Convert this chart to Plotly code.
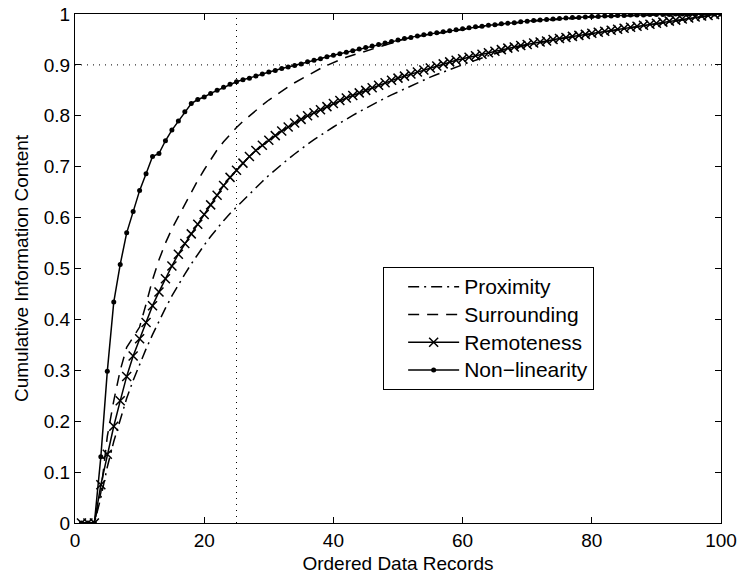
import plotly.graph_objects as go

records = list(range(1, 101))

proximity = [
    0, 0, 0, 0.050, 0.110, 0.160, 0.205, 0.245, 0.280, 0.312,
    0.342, 0.370, 0.397, 0.422, 0.446, 0.468, 0.489, 0.509, 0.528, 0.546,
    0.563, 0.579, 0.594, 0.608, 0.621, 0.634, 0.647, 0.659, 0.671, 0.683,
    0.694, 0.705, 0.715, 0.725, 0.735, 0.744, 0.753, 0.762, 0.770, 0.778,
    0.786, 0.794, 0.801, 0.808, 0.815, 0.822, 0.829, 0.835, 0.841, 0.847,
    0.853, 0.859, 0.865, 0.870, 0.876, 0.881, 0.886, 0.891, 0.896, 0.900,
    0.905, 0.909, 0.914, 0.918, 0.922, 0.926, 0.930, 0.933, 0.936, 0.939,
    0.942, 0.944, 0.946, 0.949, 0.951, 0.953, 0.955, 0.957, 0.959, 0.961,
    0.963, 0.965, 0.967, 0.969, 0.971, 0.973, 0.975, 0.977, 0.979, 0.981,
    0.983, 0.985, 0.987, 0.989, 0.991, 0.993, 0.995, 0.997, 0.999, 1.0,
]

surrounding = [
    0, 0, 0, 0.060, 0.170, 0.240, 0.300, 0.345, 0.365, 0.385,
    0.430, 0.478, 0.517, 0.550, 0.578, 0.602, 0.626, 0.650, 0.673, 0.694,
    0.714, 0.733, 0.749, 0.764, 0.777, 0.789, 0.800, 0.811, 0.821, 0.831,
    0.840, 0.849, 0.857, 0.865, 0.872, 0.880, 0.887, 0.893, 0.899, 0.905,
    0.910, 0.915, 0.919, 0.923, 0.927, 0.931, 0.935, 0.939, 0.943, 0.947,
    0.951, 0.953, 0.956, 0.958, 0.960, 0.962, 0.964, 0.966, 0.968, 0.970,
    0.972, 0.974, 0.975, 0.977, 0.978, 0.980, 0.981, 0.982, 0.984, 0.985,
    0.986, 0.987, 0.988, 0.989, 0.990, 0.991, 0.992, 0.992, 0.993, 0.994,
    0.994, 0.995, 0.995, 0.996, 0.996, 0.997, 0.997, 0.997, 0.998, 0.998,
    0.998, 0.998, 0.999, 0.999, 0.999, 0.999, 1.0, 1.0, 1.0, 1.0,
]

remoteness = [
    0, 0, 0, 0.075, 0.135, 0.190, 0.240, 0.288, 0.328, 0.362,
    0.394, 0.427, 0.454, 0.480, 0.505, 0.528, 0.549, 0.568, 0.587, 0.606,
    0.625, 0.644, 0.663, 0.679, 0.693, 0.707, 0.720, 0.732, 0.742, 0.752,
    0.761, 0.770, 0.778, 0.786, 0.793, 0.800, 0.806, 0.812, 0.818, 0.824,
    0.830, 0.835, 0.840, 0.845, 0.850, 0.855, 0.860, 0.865, 0.870, 0.874,
    0.878, 0.882, 0.886, 0.890, 0.894, 0.898, 0.902, 0.906, 0.909, 0.912,
    0.915, 0.918, 0.921, 0.924, 0.927, 0.930, 0.933, 0.935, 0.938, 0.940,
    0.943, 0.945, 0.947, 0.950, 0.952, 0.954, 0.956, 0.958, 0.960, 0.962,
    0.964, 0.966, 0.968, 0.970, 0.972, 0.974, 0.976, 0.978, 0.980, 0.982,
    0.984, 0.986, 0.988, 0.990, 0.992, 0.994, 0.996, 0.997, 0.999, 1.0,
]

nonlinearity = [
    0, 0, 0, 0.130, 0.298, 0.434, 0.508, 0.570, 0.612, 0.653,
    0.686, 0.720, 0.726, 0.751, 0.772, 0.790, 0.808, 0.824, 0.832, 0.837,
    0.844, 0.850, 0.856, 0.862, 0.867, 0.871, 0.874, 0.878, 0.882, 0.886,
    0.889, 0.893, 0.896, 0.899, 0.902, 0.906, 0.909, 0.912, 0.916, 0.919,
    0.922, 0.925, 0.928, 0.931, 0.934, 0.937, 0.940, 0.943, 0.946, 0.949,
    0.952, 0.954, 0.957, 0.959, 0.961, 0.963, 0.965, 0.967, 0.969, 0.971,
    0.973, 0.975, 0.976, 0.978, 0.979, 0.981, 0.982, 0.983, 0.985, 0.986,
    0.987, 0.988, 0.989, 0.990, 0.991, 0.992, 0.993, 0.993, 0.994, 0.995,
    0.995, 0.996, 0.996, 0.997, 0.997, 0.998, 0.998, 0.998, 0.999, 0.999,
    0.999, 0.999, 1.0, 1.0, 1.0, 1.0, 1.0, 1.0, 1.0, 1.0,
]

series_names = ["Proximity", "Surrounding", "Remoteness", "Non\u2212linearity"]

x_ticks = [0, 20, 40, 60, 80, 100]
y_ticks = [0, 0.1, 0.2, 0.3, 0.4, 0.5, 0.6, 0.7, 0.8, 0.9, 1]
y_tick_labels = ["0", "0.1", "0.2", "0.3", "0.4", "0.5", "0.6", "0.7", "0.8", "0.9", "1"]

threshold_records = 25
threshold_content = 0.9

FONT = "Liberation Sans, Arial, Helvetica, sans-serif"
FS = 19
LEG_FS = 21


def legend_label(text):
    # slightly larger legend text while keeping the compact row spacing of the original
    return f"<span style='font-size:{LEG_FS}px'>{text}</span>"


fig = go.Figure()

fig.add_trace(go.Scatter(
    x=records, y=proximity, name=legend_label(series_names[0]), mode="lines",
    line=dict(color="black", width=1.5, dash="11px,5px,2px,5px"),
))
fig.add_trace(go.Scatter(
    x=records, y=surrounding, name=legend_label(series_names[1]), mode="lines",
    line=dict(color="black", width=1.5, dash="11px,8px"),
))
fig.add_trace(go.Scatter(
    x=records, y=remoteness, name=legend_label(series_names[2]), mode="lines+markers",
    line=dict(color="black", width=1.5),
    marker=dict(symbol="x-thin", size=9, line=dict(color="black", width=1.5)),
))
fig.add_trace(go.Scatter(
    x=records, y=nonlinearity, name=legend_label(series_names[3]), mode="lines+markers",
    line=dict(color="black", width=1.5),
    marker=dict(symbol="circle", size=5, color="black"),
))

fig.add_vline(x=threshold_records, line=dict(color="black", width=1, dash="1px,5px"), layer="below")
fig.add_hline(y=threshold_content, line=dict(color="black", width=1, dash="1px,5px"), layer="below")

axis_common = dict(
    showline=True, linecolor="black", linewidth=1, mirror="ticks",
    ticks="inside", ticklen=6, tickcolor="black", tickwidth=1,
    showgrid=False, zeroline=False,
    tickfont=dict(family=FONT, size=FS, color="black"),
)

fig.update_xaxes(
    range=[0, 100], tickvals=x_ticks,
    title=dict(text="Ordered Data Records", font=dict(family=FONT, size=FS, color="black"), standoff=6),
    **axis_common,
)
fig.update_yaxes(
    range=[0, 1], tickvals=y_ticks, ticktext=y_tick_labels,
    title=dict(text="Cumulative Information Content", font=dict(family=FONT, size=FS, color="black"), standoff=10),
    **axis_common,
)

fig.update_layout(
    width=737, height=578,
    margin=dict(l=75, r=16, t=14, b=55, autoexpand=False),
    paper_bgcolor="white", plot_bgcolor="white",
    font=dict(family=FONT, size=FS, color="black"),
    showlegend=True,
    legend=dict(
        x=0.477, y=0.503, xanchor="left", yanchor="top",
        bgcolor="white", bordercolor="black", borderwidth=1,
        font=dict(family=FONT, size=FS, color="black"),
        indentation=19, itemwidth=51, tracegroupgap=0,
    ),
)

fig.write_html(
    "out.html",
    config={"displayModeBar": False},
    post_script="document.body.style.margin='0px';",
)
